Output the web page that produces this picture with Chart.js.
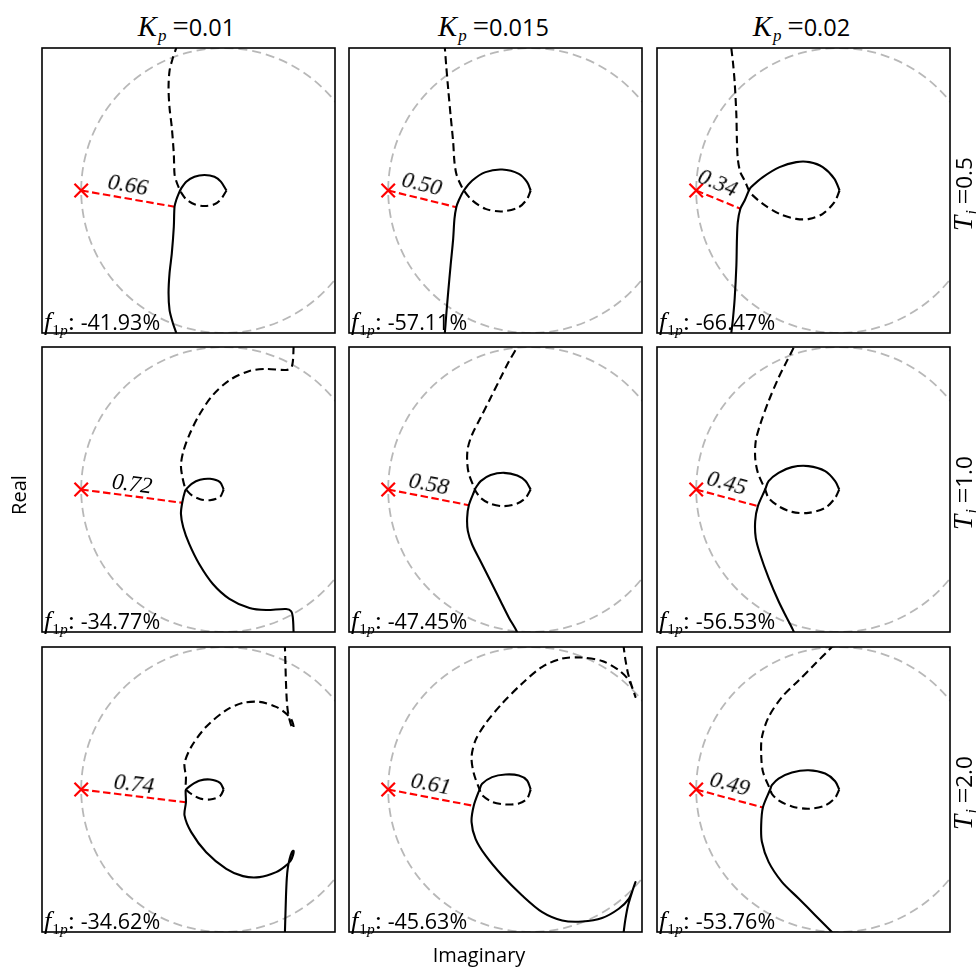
<!DOCTYPE html>
<html>
<head>
<meta charset="utf-8">
<script src="https://cdn.jsdelivr.net/npm/chart.js@4.4.0/dist/chart.umd.min.js"></script>
<style>
  body { margin: 0; background: #fff; }
  #fig { position: relative; width: 976px; height: 968px; overflow: hidden; font-family: "Open Sans", sans-serif; color: #000; }
  #fig canvas { position: absolute; }
  .lbl { position: absolute; white-space: nowrap; line-height: 1; }
  .m { font-family: "Liberation Serif", serif; font-style: italic; }
  .r { font-family: "Liberation Serif", serif; font-style: normal; }
  .big { font-size: 122%; }
  sub { font-size: 72%; vertical-align: -0.3em; line-height: 0; margin-left: 1px; }
</style>
</head>
<body>
<div id="fig"></div>
<script>
// column / row parameters
const kpValues = ['0.01', '0.015', '0.02'];
const tiValues = ['0.5', '1.0', '2.0'];

// distance from -1 to the closest point, and f1p text per panel (row-major)
const distLabels = ['0.66', '0.50', '0.34', '0.72', '0.58', '0.45', '0.74', '0.61', '0.49'];
const f1pLabels = ['-41.93%', '-57.11%', '-66.47%', '-34.77%', '-47.45%', '-56.53%', '-34.62%', '-45.63%', '-53.76%'];

// closest point on each curve
const nearRe = [-0.345, -0.522, -0.69, -0.291, -0.434, -0.567, -0.265, -0.40, -0.532];
const nearIm = [-0.114, -0.117, -0.128, -0.093, -0.11, -0.117, -0.09, -0.115, -0.126];

// positive-frequency branch of each curve (negative branch is its conjugate)
// Ti = 0.5
const re00 = [0.02, -0.02, -0.065, -0.135, -0.205, -0.263, -0.298, -0.315, -0.333, -0.345, -0.35, -0.364, -0.38, -0.387, -0.38, -0.357, -0.333, -0.325];
const im00 = [0, 0.062, 0.097, 0.109, 0.097, 0.062, 0.015, -0.02, -0.067, -0.114, -0.254, -0.44, -0.58, -0.72, -0.84, -0.93, -1.0, -1.03];
const re01 = [0.0, -0.025, -0.083, -0.2, -0.317, -0.41, -0.469, -0.505, -0.522, -0.535, -0.544, -0.562, -0.579, -0.593, -0.602, -0.606];
const im01 = [0, 0.059, 0.117, 0.147, 0.129, 0.07, 0.0, -0.07, -0.117, -0.199, -0.339, -0.526, -0.713, -0.877, -0.994, -1.03];
const re02 = [0.006, -0.03, -0.112, -0.205, -0.298, -0.415, -0.532, -0.614, -0.63, -0.66, -0.69, -0.708, -0.714, -0.718, -0.73, -0.742, -0.753, -0.757];
const im02 = [0, 0.082, 0.164, 0.199, 0.199, 0.164, 0.094, 0.024, 0, -0.07, -0.128, -0.222, -0.339, -0.526, -0.76, -0.9, -0.994, -1.03];
// Ti = 1.0
const re10 = [0.0, -0.026, -0.096, -0.166, -0.225, -0.26, -0.27, -0.291, -0.3, -0.284, -0.242, -0.172, -0.076, 0.04, 0.181, 0.298, 0.438, 0.474, 0.485, 0.49, 0.49];
const im10 = [0, 0.052, 0.075, 0.068, 0.04, 0.005, -0.007, -0.093, -0.171, -0.265, -0.382, -0.523, -0.663, -0.767, -0.832, -0.846, -0.839, -0.855, -0.897, -0.99, -1.03];
const re11 = [0.0, -0.036, -0.094, -0.188, -0.281, -0.351, -0.386, -0.394, -0.434, -0.446, -0.441, -0.411, -0.352, -0.281, -0.211, -0.152, -0.098, -0.085];
const im11 = [0, 0.059, 0.098, 0.117, 0.101, 0.059, 0.012, -0.007, -0.11, -0.199, -0.292, -0.386, -0.503, -0.644, -0.784, -0.901, -0.994, -1.03];
const re12 = [0.004, -0.025, -0.095, -0.212, -0.328, -0.422, -0.492, -0.516, -0.567, -0.586, -0.582, -0.551, -0.492, -0.422, -0.364, -0.317, -0.305];
const im12 = [0, 0.059, 0.129, 0.164, 0.157, 0.117, 0.059, 0, -0.117, -0.222, -0.339, -0.456, -0.62, -0.784, -0.901, -0.994, -1.03];
// Ti = 2.0
const re20 = [0.0, -0.026, -0.096, -0.166, -0.225, -0.26, -0.267, -0.265, -0.275, -0.228, -0.123, 0.018, 0.135, 0.251, 0.368, 0.43, 0.47, 0.487, 0.49, 0.478, 0.462, 0.45, 0.443, 0.437, 0.43, 0.428];
const im20 = [0, 0.047, 0.07, 0.063, 0.033, 0.005, -0.007, -0.09, -0.182, -0.299, -0.44, -0.557, -0.608, -0.615, -0.58, -0.54, -0.50, -0.46, -0.43, -0.44, -0.49, -0.55, -0.62, -0.75, -0.99, -1.03];
const re21 = [0.0, -0.025, -0.083, -0.177, -0.271, -0.341, -0.359, -0.40, -0.415, -0.387, -0.317, -0.2, -0.06, 0.081, 0.221, 0.361, 0.501, 0.618, 0.688, 0.723, 0.735, 0.711, 0.683, 0.665, 0.653, 0.65];
const im21 = [0, 0.063, 0.098, 0.105, 0.087, 0.04, 0, -0.115, -0.229, -0.346, -0.463, -0.604, -0.744, -0.861, -0.919, -0.926, -0.902, -0.837, -0.767, -0.685, -0.65, -0.72, -0.814, -0.908, -0.996, -1.03];
const re22 = [0.004, -0.025, -0.095, -0.212, -0.328, -0.422, -0.469, -0.481, -0.532, -0.544, -0.539, -0.492, -0.399, -0.281, -0.165, -0.06, -0.03];
const im22 = [0, 0.058, 0.112, 0.135, 0.119, 0.077, 0.03, 0, -0.126, -0.25, -0.367, -0.508, -0.648, -0.765, -0.882, -0.988, -1.02];

const curvesRe = [re00, re01, re02, re10, re11, re12, re20, re21, re22];
const curvesIm = [im00, im01, im02, im10, im11, im12, im20, im21, im22];

// axis limits
const xLim = [-1.275, 0.781];
const yLim = [-1, 1];

const fig = document.getElementById('fig');
const colLeft = [42, 349, 657];
const rowTop = [48, 347, 647];
const W = 293, H = 285;

function addLabel(html, css) {
  const d = document.createElement('div');
  d.className = 'lbl';
  d.innerHTML = html;
  Object.assign(d.style, css);
  fig.appendChild(d);
  return d;
}

// dashed unit circle behind the curves, black frame on top
const circleFrame = {
  id: 'circleFrame',
  beforeDatasetsDraw(chart) {
    const { ctx, chartArea: a, scales: { x, y } } = chart;
    ctx.save();
    ctx.beginPath();
    ctx.rect(a.left, a.top, a.right - a.left, a.bottom - a.top);
    ctx.clip();
    ctx.strokeStyle = '#b8b8b8';
    ctx.lineWidth = 1.8;
    ctx.setLineDash([9, 5]);
    ctx.beginPath();
    const cx = x.getPixelForValue(0), cy = y.getPixelForValue(0);
    ctx.ellipse(cx, cy, x.getPixelForValue(1) - cx, cy - y.getPixelForValue(1), 0, 0, Math.PI * 2);
    ctx.stroke();
    ctx.restore();
  },
  afterDraw(chart) {
    const { ctx, chartArea: a } = chart;
    ctx.save();
    ctx.strokeStyle = '#000';
    ctx.lineWidth = 1.6;
    ctx.strokeRect(a.left, a.top, a.right - a.left, a.bottom - a.top);
    ctx.restore();
  }
};

for (let r = 0; r < 3; r++) {
  for (let c = 0; c < 3; c++) {
    const k = r * 3 + c;
    const re = curvesRe[k], im = curvesIm[k];
    const canvas = document.createElement('canvas');
    canvas.width = W + 2;
    canvas.height = H + 2;
    canvas.style.left = (colLeft[c] - 1) + 'px';
    canvas.style.top = (rowTop[r] - 1) + 'px';
    fig.appendChild(canvas);

    const chart = new Chart(canvas, {
      type: 'scatter',
      data: {
        datasets: [
          {
            data: re.map((v, i) => ({ x: v, y: im[i] })),
            showLine: true, borderColor: '#000', borderWidth: 2.1, pointRadius: 0, tension: 0.3, clip: 0
          },
          {
            data: re.map((v, i) => ({ x: v, y: -im[i] })),
            showLine: true, borderColor: '#000', borderWidth: 2.1, borderDash: [8, 4.5], pointRadius: 0, tension: 0.3, clip: 0
          },
          {
            data: [{ x: -1, y: 0 }, { x: nearRe[k], y: nearIm[k] }],
            showLine: true, borderColor: '#ff0000', borderWidth: 2.1, borderDash: [7.5, 3.5], pointRadius: 0, clip: 0
          },
          {
            data: [{ x: -1, y: 0 }],
            showLine: false, pointStyle: 'crossRot', pointRadius: 9.5, borderColor: '#ff0000', borderWidth: 2.2, clip: 0
          }
        ]
      },
      options: {
        animation: false,
        responsive: false,
        events: [],
        layout: { padding: 1, autoPadding: false },
        elements: { line: { capBezierPoints: false, borderJoinStyle: 'round' } },
        plugins: { legend: { display: false }, tooltip: { enabled: false } },
        scales: {
          x: { type: 'linear', min: xLim[0], max: xLim[1], display: false },
          y: { type: 'linear', min: yLim[0], max: yLim[1], display: false }
        }
      },
      plugins: [circleFrame]
    });

    // distance label along the red line
    const sx = chart.scales.x, sy = chart.scales.y;
    const x0 = sx.getPixelForValue(-1), y0 = sy.getPixelForValue(0);
    const x1 = sx.getPixelForValue(nearRe[k]), y1 = sy.getPixelForValue(nearIm[k]);
    const ang = Math.atan2(y1 - y0, x1 - x0);
    const mx = colLeft[c] - 1 + (x0 + x1) / 2, my = rowTop[r] - 1 + (y0 + y1) / 2;
    const dl = addLabel('<span class="m">' + distLabels[k] + '</span>', { fontSize: '23px', left: '0px', top: '0px' });
    const w = dl.offsetWidth, h = dl.offsetHeight;
    const off = (w * Math.abs(Math.sin(ang)) + 20 * Math.cos(ang)) / 2 + 1;
    dl.style.left = (mx - w / 2) + 'px';
    dl.style.top = (my - off - h / 2) + 'px';
    dl.style.transform = 'rotate(' + ang + 'rad)';

    // f1p text in the lower left corner
    addLabel('<span class="m big">f</span><sub><span class="r">1</span><span class="m">p</span></sub><span class="r big">:</span> ' + f1pLabels[k],
      { fontSize: '21.5px', left: (colLeft[c] + 2) + 'px', top: (rowTop[r] + H - 24) + 'px' });
  }
}

// column titles
for (let c = 0; c < 3; c++) {
  addLabel('<span class="m big">K</span><sub><span class="m">p</span></sub> <span class="r big">=</span>' + kpValues[c],
    { fontSize: '23.5px', top: '12px', left: (colLeft[c] + W / 2 - 2) + 'px', transform: 'translateX(-50%)' });
}
// row labels
for (let r = 0; r < 3; r++) {
  addLabel('<span class="m big">T</span><sub><span class="m">i</span></sub> <span class="r big">=</span>' + tiValues[r],
    { fontSize: '22.5px', left: '964px', top: (rowTop[r] + H / 2 + 3) + 'px', transform: 'translate(-50%,-50%) rotate(-90deg)' });
}
addLabel('Real', { fontSize: '20px', left: '19px', top: '495px', transform: 'translate(-50%,-50%) rotate(-90deg)' });
addLabel('Imaginary', { fontSize: '20px', left: '479px', top: '955px', transform: 'translate(-50%,-50%)' });
</script>
</body>
</html>
